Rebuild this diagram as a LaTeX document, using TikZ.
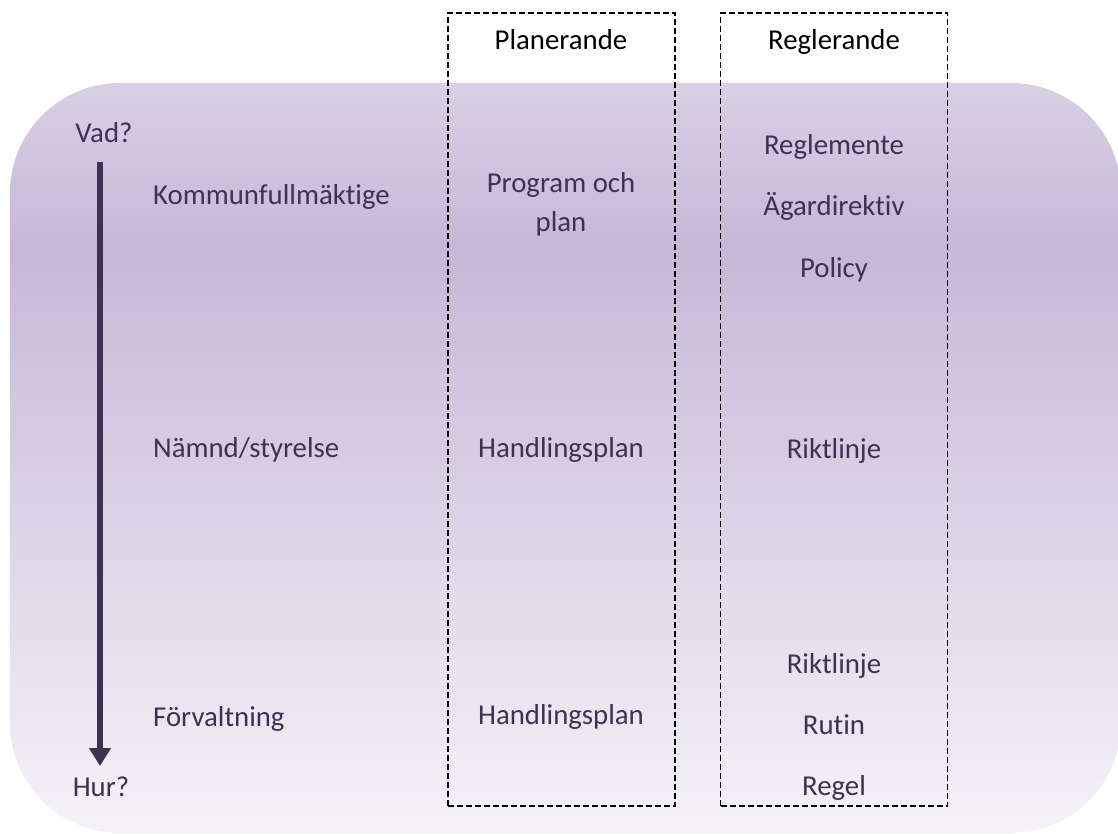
\documentclass[tikz,border=0pt]{standalone}
\usepackage{fontspec}
\setmainfont{Carlito}[Ligatures={NoCommon}]
\usetikzlibrary{arrows.meta}
\definecolor{txtc}{HTML}{3F3151}
\definecolor{topc}{HTML}{D8D0E4}
\definecolor{midc}{HTML}{C5B8D6}
\definecolor{botc}{HTML}{F5F3F8}
\pgfdeclareverticalshading{bgshade}{100bp}{color(0bp)=(botc); color(25bp)=(botc); color(64bp)=(midc); color(75bp)=(topc); color(100bp)=(topc)}
\tikzset{
  lbl/.style={text=txtc, font=\fontsize{28.8}{39}\selectfont, inner sep=0pt, anchor=base},
  lbll/.style={lbl, anchor=base west},
  hdr/.style={text=black, font=\fontsize{28.8}{34}\selectfont, inner sep=0pt, anchor=base},
  dashbox/.style={draw=black, line width=1.4pt, dash pattern=on 6pt off 3pt, minimum width=227pt, minimum height=793pt, inner sep=0pt},
  flowarrow/.style={draw=txtc, line width=6pt, -{Triangle[width=21pt,length=18pt]}}
}
\begin{document}
\begin{tikzpicture}[x=1pt,y=-1pt]
\useasboundingbox (0,0) rectangle (1118,834);
% background panel
\path[shading=bgshade, rounded corners=110pt] (10,83) rectangle (1121,833);
% dashed column boxes
\node[dashbox] (planbox) at (561.5,409.5) {};
\node[dashbox] (regbox) at (834,409.5) {};
% headers
\node[hdr] (hplan) at (561,50) {Planerande};
\node[hdr] (hreg) at (834,50) {Reglerande};
% arrow
\node[lbl] (vad) at (104,143) {Vad?};
\node[lbl] (hur) at (101,796) {Hur?};
\coordinate (atop) at (100,162);
\coordinate (abot) at (100,766);
\draw[flowarrow] (atop) -- (abot);
% levels
\node[lbll] (kf) at (153,205) {Kommunfullmäktige};
\node[lbll] (ns) at (153,457) {Nämnd/styrelse};
\node[lbll] (fv) at (153,726) {Förvaltning};
% planerande
\node[lbl, align=center] (prog) at (561,232) {Program och\\plan};
\node[lbl] (hp1) at (561,457) {Handlingsplan};
\node[lbl] (hp2) at (561,724) {Handlingsplan};
% reglerande
\node[lbl] (r1) at (834,155) {Reglemente};
\node[lbl] (r2) at (834,216) {Ägardirektiv};
\node[lbl] (r3) at (834,277) {Policy};
\node[lbl] (r4) at (834,458) {Riktlinje};
\node[lbl] (r5) at (834,673) {Riktlinje};
\node[lbl] (r6) at (834,734) {Rutin};
\node[lbl] (r7) at (834,795) {Regel};
\end{tikzpicture}
\end{document}
